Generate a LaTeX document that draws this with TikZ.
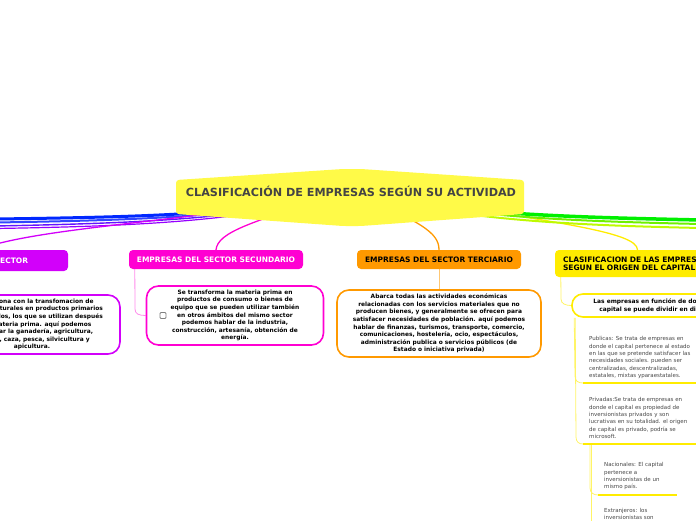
\documentclass[tikz,border=0pt]{standalone}
\usepackage{fontspec}
\setmainfont{DejaVu Sans}
\usetikzlibrary{positioning, calc}
\definecolor{rootyellow}{RGB}{255,250,72}
\definecolor{titlegray}{RGB}{68,68,68}
\definecolor{leafgray}{RGB}{70,70,70}
\definecolor{primpurple}{RGB}{210,0,250}
\definecolor{secmagenta}{RGB}{255,0,210}
\definecolor{terorange}{RGB}{255,153,0}
\definecolor{capyellow}{RGB}{255,236,0}
\definecolor{blueA}{RGB}{0,40,255}
\definecolor{blueB}{RGB}{50,70,255}
\definecolor{violetA}{RGB}{100,20,255}
\definecolor{violetB}{RGB}{150,0,255}
\definecolor{greenA}{RGB}{0,240,0}
\definecolor{greenB}{RGB}{110,240,0}
\definecolor{greenC}{RGB}{190,250,0}
\pgfdeclarelayer{edges}
\pgfsetlayers{edges,main}
\tikzset{
  roottext/.style={inner sep=0pt, text=titlegray,
    font=\bfseries\fontsize{11.2}{13}\selectfont},
  hdrbox/.style={rectangle, rounded corners=4pt, inner sep=0pt,
    font=\bfseries\fontsize{7.5}{8.4}\selectfont, align=center},
  descbox/.style={rectangle, rounded corners=12pt, fill=white,
    line width=1.6pt, inner sep=0pt, align=center,
    font=\bfseries\fontsize{5.9}{7.6}\selectfont},
  leaftext/.style={anchor=north west, inner sep=0pt, align=left,
    text=leafgray, font=\fontsize{5.5}{7.3}\selectfont},
  checkbox/.style={rectangle, draw=gray, line width=0.8pt,
    rounded corners=1pt, minimum size=6pt, inner sep=0pt},
  branch/.style={line cap=round},
  twig/.style={line width=0.8pt},
  underline/.style={line width=2.6pt, draw=capyellow}
}
\begin{document}
\begin{tikzpicture}[x=1pt, y=-1pt]
  \useasboundingbox (0,0) rectangle (696,520);
  \clip (0,0) rectangle (696,520);

  % central topic
  \fill[rootyellow, rounded corners=3pt] (176,180) -- (343,169) -- (361,169) -- (524,180)
    -- (524,214) -- (361,226) -- (343,226) -- (176,214) -- cycle;
  \node[roottext] (root) at (351,191) {CLASIFICACIÓN DE EMPRESAS SEGÚN SU ACTIVIDAD};

  % sector primario
  \node[hdrbox, fill=primpurple, text=white, minimum width=180, minimum height=21] (prim) at (-22,260.5) {EMPRESAS DEL SECTOR};
  \node[descbox, draw=primpurple, minimum width=176, minimum height=59] (primdesc) at (32,324.5)
    {Se relaciona con la transfomacion de\\recursos naturales en productos primarios\\no elaborados, los que se utilizan después\\como materia prima. aquí podemos\\mencionar la ganadería, agricultura,\\minería, caza, pesca, silvicultura y\\apicultura.};

  % sector secundario
  \node[hdrbox, fill=secmagenta, text=white, minimum width=174, minimum height=19] (sec) at (216,259.5) {EMPRESAS DEL SECTOR SECUNDARIO};
  \node[descbox, draw=secmagenta, minimum width=177, minimum height=59] (secdesc) at (235,315.5)
    {Se transforma la materia prima en\\productos de consumo o bienes de\\equipo que se pueden utilizar también\\en otros ámbitos del mismo sector\\podemos hablar de la industria,\\construcción, artesanía, obtención de\\energía.};
  \node[checkbox] (secchk) at (163,315.5) {};

  % sector terciario
  \node[hdrbox, fill=terorange, text=black, minimum width=164, minimum height=19] (ter) at (439,259.5) {EMPRESAS DEL SECTOR TERCIARIO};
  \node[descbox, draw=terorange, minimum width=204, minimum height=67] (terdesc) at (439,323.5)
    {Abarca todas las actividades económicas\\relacionadas con los servicios materiales que no\\producen bienes, y generalmente se ofrecen para\\satisfacer necesidades de población. aquí podemos\\hablar de finanzas, turismos, transporte, comercio,\\comunicaciones, hostelería, ocio, espectáculos,\\administración publica o servicios públicos (de\\Estado o iniciativa privada)};

  % origen del capital
  \node[hdrbox, fill=capyellow, text=black, align=left, text width=169, minimum width=185, minimum height=27] (cap) at (647.5,263.5)
    {CLASIFICACION DE LAS EMPRESAS\\SEGUN EL ORIGEN DEL CAPITAL};
  \node[descbox, draw=capyellow, rounded corners=11pt, minimum width=198, minimum height=23] (capsub) at (671,305.5)
    {Las empresas en función de donde proviene el\\capital se puede dividir en diferentes tipos};

  \node[leaftext] (pub) at (589,336.5) {Publicas: Se trata de empresas en\\donde el capital pertenece al estado\\en las que se pretende satisfacer las\\necesidades sociales. pueden ser\\centralizadas, descentralizadas,\\estatales, mixtas yparaestatales.};
  \node[leaftext] (priv) at (589,397.5) {Privadas:Se trata de empresas en\\donde el capital es propiedad de\\inversionistas privados y son\\lucrativas en su totalidad. el origen\\de capital es privado, podría se\\microsoft.};
  \node[leaftext] (nac) at (604,462.5) {Nacionales: El capital\\pertenece a\\inversionistas de un\\mismo país.};
  \node[leaftext] (ext) at (604,508) {Extranjeros: los\\inversionistas son};

  \coordinate (pubu) at (583,383);
  \coordinate (privu) at (583,444);
  \coordinate (nacu) at (598,495);
  \draw[underline] (pubu) -- (700,383);
  \draw[underline] (privu) -- (700,444);
  \draw[underline] (nacu) -- (677,495);

  % connectors
  \coordinate (lb1) at (-5,219);
  \coordinate (lb2) at (-5,222.5);
  \coordinate (lb3) at (-5,226);
  \coordinate (lb4) at (-5,228.5);
  \coordinate (rg1) at (701,220);
  \coordinate (rg2) at (701,224);
  \coordinate (rg3) at (701,228);
  \coordinate (extdown) at (591,530);
  \begin{pgfonlayer}{edges}
    \draw[branch, blueA, line width=3pt] (root.center) .. controls (260,214) and (150,217) .. (lb1);
    \draw[branch, blueB, line width=2pt] (root.center) .. controls (260,216) and (150,220) .. (lb2);
    \draw[branch, violetA, line width=1.4pt] (root.center) .. controls (260,218) and (150,223) .. (lb3);
    \draw[branch, violetB, line width=1.2pt] (root.center) .. controls (260,220) and (150,226) .. (lb4);
    \draw[branch, primpurple, line width=1.3pt] (root.center) .. controls (200,222) and (40,226) .. (prim.north);
    \draw[branch, secmagenta, line width=1.3pt] (root.center) .. controls (250,222) and (218,232) .. (sec.north);
    \draw[branch, terorange, line width=1.3pt] (root.center) .. controls (420,222) and (439,232) .. (ter.north);
    \draw[branch, capyellow, line width=1.3pt] (root.center) .. controls (560,222) and (637,232) .. ([xshift=-10pt]cap.north);
    \draw[branch, greenA, line width=3.5pt] (root.center) .. controls (450,214) and (560,217) .. (rg1);
    \draw[branch, greenB, line width=2pt] (root.center) .. controls (450,216) and (560,221) .. (rg2);
    \draw[branch, greenC, line width=2pt] (root.center) .. controls (450,219) and (560,225) .. (rg3);

    \draw[twig, secmagenta!45] ([xshift=6pt]sec.south west) -- (135,309) .. controls (135,314) and (139,315.5) .. (secdesc.west);
    \draw[twig, terorange!55] (ter.south) -- (terdesc.north);
    \draw[twig, capyellow!60] ([xshift=6pt]cap.south west) -- (561,299) .. controls (561,304) and (566,305.5) .. (capsub.west);
    \draw[twig, capyellow!60] ([xshift=3pt]capsub.south west) -- (575,376) .. controls (575,381) and (578,383) .. (pubu);
    \draw[twig, capyellow!60] ([xshift=4pt]capsub.south west) -- (576,437) .. controls (576,442) and (579,444) .. (privu);
    \draw[twig, capyellow!60] ([xshift=7pt]privu) -- (590,488) .. controls (590,493) and (594,495) .. (nacu);
    \draw[twig, capyellow!60] ([xshift=8pt]privu) -- (extdown);
  \end{pgfonlayer}
\end{tikzpicture}
\end{document}
